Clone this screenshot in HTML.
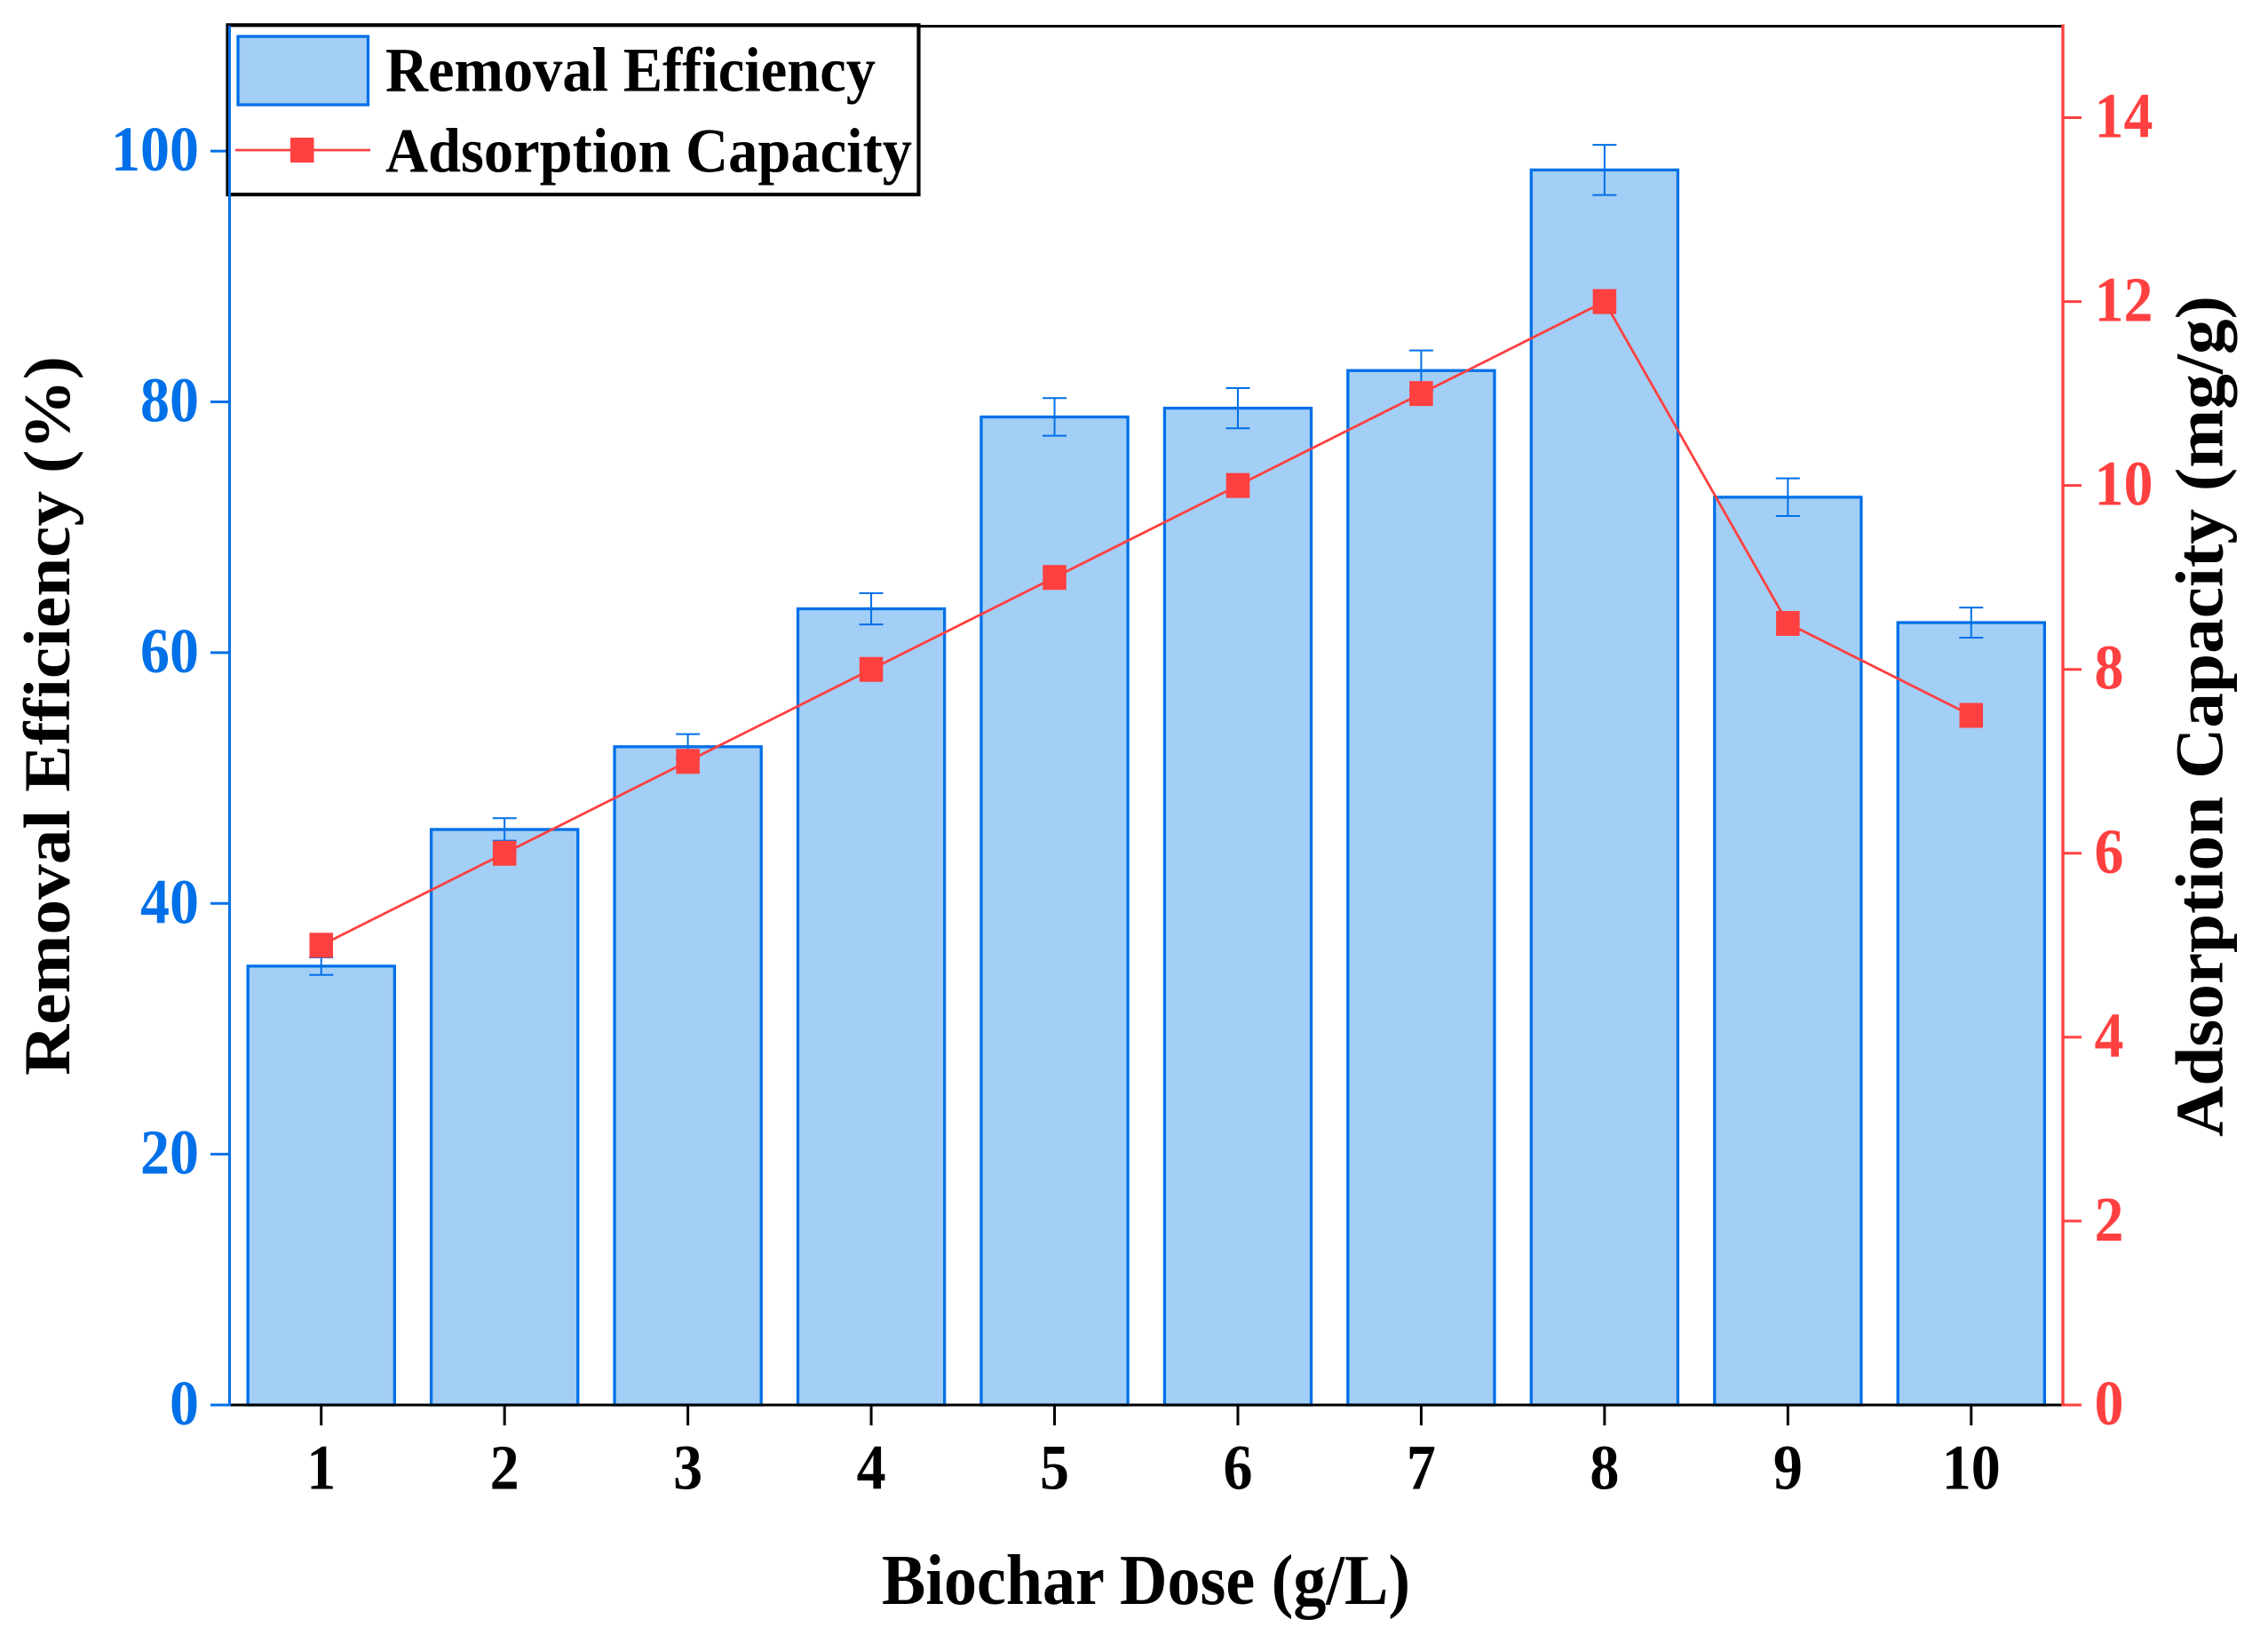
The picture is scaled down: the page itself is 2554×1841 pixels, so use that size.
<!DOCTYPE html>
<html lang="en">
<head>
<meta charset="utf-8">
<title>Biochar dose chart</title>
<style>
html,body{margin:0;padding:0;background:#fff;}
svg{display:block;}
text{font-family:"Liberation Serif","Times New Roman",serif;font-weight:bold;}
</style>
</head>
<body>
<svg id="chart" xmlns="http://www.w3.org/2000/svg" width="2554" height="1841" viewBox="0 0 2554 1841">
  <rect x="0" y="0" width="2554" height="1841" fill="#ffffff"/>
  <g id="bars"></g>
  <g id="errors"></g>
  <g id="series"></g>
  <g id="axes"></g>

  <g>
    <rect x="256.5" y="28.3" width="778" height="190.7" fill="#ffffff" stroke="#000000" stroke-width="4.2"/>
    <rect x="268" y="41" width="146.5" height="77" fill="#A3CEF5" stroke="#0070E8" stroke-width="3.3"/>
    <text x="434" y="102.7" font-size="71" textLength="552" lengthAdjust="spacingAndGlyphs" fill="#000000">Removal Efficiency</text>
    <line x1="265" y1="169" x2="417" y2="169" stroke="#FF4040" stroke-width="2.8"/>
    <rect x="327" y="155" width="26.5" height="28" fill="#FF4040"/>
    <text x="434" y="193.3" font-size="71" textLength="593" lengthAdjust="spacingAndGlyphs" fill="#000000">Adsorption Capacity</text>
  </g>

  <g id="axes-front"></g>

  <text x="993" y="1806" font-size="80" textLength="595" lengthAdjust="spacingAndGlyphs" fill="#000000">Biochar Dose (g/L)</text>
  <text transform="translate(78,1211) rotate(-90)" x="0" y="0" font-size="74" textLength="810" lengthAdjust="spacingAndGlyphs" fill="#000000">Removal Efficiency (%)</text>
  <text transform="translate(2502.7,1280) rotate(-90)" x="0" y="0" font-size="76" textLength="947" lengthAdjust="spacingAndGlyphs" fill="#000000">Adsorption Capacity (mg/g)</text>
</svg>

<script>
var categories = [1, 2, 3, 4, 5, 6, 7, 8, 9, 10];
var removalEfficiency = [35, 45.9, 52.5, 63.5, 78.8, 79.5, 82.5, 98.5, 72.4, 62.4];
var removalError = [0.7, 0.9, 1.0, 1.25, 1.5, 1.6, 1.6, 2.0, 1.5, 1.2];
var adsorptionCapacity = [5, 6, 7, 8, 9, 10, 11, 12, 8.5, 7.5];
var leftTicks = [0, 20, 40, 60, 80, 100];
var rightTicks = [0, 2, 4, 6, 8, 10, 12, 14];

var BLUE = '#0070E8', FILL = '#A3CEF5', RED = '#FF4040', BLACK = '#000000';
var plotLeft = 258.5, plotRight = 2323, plotTop = 29, plotBottom = 1582;
var DIGIT_W = 33;
var SVGNS = 'http://www.w3.org/2000/svg';

function xScale(v) { return plotLeft + (v - 0.5) / 10 * (plotRight - plotLeft); }
function yLeft(v) { return plotBottom - v / 110 * (plotBottom - plotTop); }
function yRight(v) { return plotBottom - v / 15 * (plotBottom - plotTop); }

function make(tag, props) {
  var el = document.createElementNS(SVGNS, tag);
  for (var k in props) { el.setAttribute(k, props[k]); }
  return el;
}

function tickText(str, xStart, y, fill) {
  var t = make('text', { x: xStart, y: y, 'font-size': 72, fill: fill, textLength: DIGIT_W * str.length, lengthAdjust: 'spacingAndGlyphs' });
  t.textContent = str;
  return t;
}

var barsG = document.getElementById('bars');
var errorsG = document.getElementById('errors');
var seriesG = document.getElementById('series');
var axesG = document.getElementById('axes');
var frontG = document.getElementById('axes-front');
var barWidth = 0.8 * (xScale(2) - xScale(1));

categories.forEach(function (c, i) {
  var cx = xScale(c);
  var top = yLeft(removalEfficiency[i]);
  var bar = make('rect', { x: cx - barWidth / 2, y: top, width: barWidth, height: plotBottom - top, fill: FILL, stroke: BLUE, 'stroke-width': 3.3 });
  
  
  barsG.appendChild(bar);

  var hi = yLeft(removalEfficiency[i] + removalError[i]);
  var lo = yLeft(removalEfficiency[i] - removalError[i]);
  var err = make('path', { d: 'M' + (cx - 13.5) + ' ' + hi + 'H' + (cx + 13.5) + 'M' + cx + ' ' + hi + 'V' + lo + 'M' + (cx - 13.5) + ' ' + lo + 'H' + (cx + 13.5), fill: 'none', stroke: BLUE, 'stroke-width': 2 });
  
  
  errorsG.appendChild(err);
});

var linePoints = categories.map(function (c, i) { return xScale(c) + ',' + yRight(adsorptionCapacity[i]); }).join(' ');
var capacityLine = make('polyline', { points: linePoints, fill: 'none', stroke: RED, 'stroke-width': 2.8 });


seriesG.appendChild(capacityLine);

categories.forEach(function (c, i) {
  var marker = make('rect', { x: xScale(c) - 13.25, y: yRight(adsorptionCapacity[i]) - 14, width: 26.5, height: 28, fill: RED });
  
  
  seriesG.appendChild(marker);

  var tick = make('line', { x1: xScale(c), y1: plotBottom, x2: xScale(c), y2: 1605, stroke: BLACK, 'stroke-width': 3 });
  
  
  axesG.appendChild(tick);

  var str = String(c);
  var label = tickText(str, xScale(c) - DIGIT_W * str.length / 2, 1676.5, BLACK);
  
  
  axesG.appendChild(label);
});

leftTicks.forEach(function (t) {
  var y = yLeft(t);
  var tick = make('line', { x1: 237, y1: y, x2: plotLeft, y2: y, stroke: BLUE, 'stroke-width': 3 });
  
  
  axesG.appendChild(tick);

  var str = String(t);
  var label = tickText(str, 224 - DIGIT_W * str.length, y + 22, BLUE);
  
  
  axesG.appendChild(label);
});

rightTicks.forEach(function (t) {
  var y = yRight(t);
  var tick = make('line', { x1: plotRight, y1: y, x2: 2344, y2: y, stroke: RED, 'stroke-width': 3 });
  
  
  axesG.appendChild(tick);

  var label = tickText(String(t), 2358.5, y + 22, RED);
  
  
  axesG.appendChild(label);
});

var xAxis = make('line', { x1: plotLeft, y1: plotBottom, x2: plotRight, y2: plotBottom, stroke: BLACK, 'stroke-width': 3 });


frontG.appendChild(xAxis);

var topAxis = make('line', { x1: 1035, y1: plotTop + 0.5, x2: plotRight, y2: plotTop + 0.5, stroke: BLACK, 'stroke-width': 3 });


frontG.appendChild(topAxis);

var leftAxis = make('line', { x1: plotLeft, y1: plotTop, x2: plotLeft, y2: plotBottom + 1.5, stroke: BLUE, 'stroke-width': 3 });


frontG.appendChild(leftAxis);

var rightAxis = make('line', { x1: plotRight, y1: plotTop - 1.5, x2: plotRight, y2: plotBottom + 1.5, stroke: RED, 'stroke-width': 3.4 });


frontG.appendChild(rightAxis);
</script>
</body>
</html>
